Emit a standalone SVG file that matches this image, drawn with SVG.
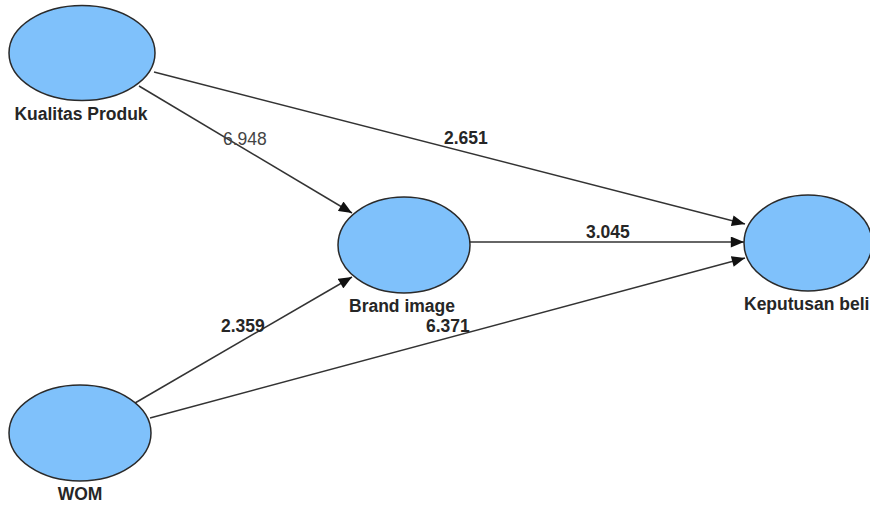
<svg xmlns="http://www.w3.org/2000/svg" width="870" height="506" viewBox="0 0 870 506">
  <style>
    .node { fill: #7fc1fb; stroke: #2a2a2a; stroke-width: 1.5; }
    .edge { stroke: #333; stroke-width: 1.5; fill: none; marker-end: url(#arrow); }
    .lbl { font-family: "Liberation Sans", Arial, sans-serif; font-size: 17.5px; font-weight: bold; fill: #262626; }
    .val { font-family: "Liberation Sans", Arial, sans-serif; font-size: 17.5px; font-weight: bold; fill: #262626; }
    .thin { font-weight: normal; fill: #444; }
  </style>
  <defs>
    <marker id="arrow" viewBox="0 0 12 10" refX="12" refY="5" markerWidth="14" markerHeight="11" markerUnits="userSpaceOnUse" orient="auto">
      <path d="M0,0 L12,5 L0,10 z" fill="#111"/>
    </marker>
    <clipPath id="cut-value">
      <rect x="200" y="120" width="68" height="40"/>
    </clipPath>
  </defs>
  <rect width="870" height="506" fill="#fff"/>

  <g id="connectors">
    <line class="edge" x1="139" y1="86" x2="352" y2="213"/>
    <line class="edge" x1="154" y1="72" x2="745" y2="224"/>
    <line class="edge" x1="470" y1="242" x2="744" y2="242"/>
    <line class="edge" x1="135" y1="403" x2="352" y2="277"/>
    <line class="edge" x1="150" y1="418" x2="745" y2="258"/>
    <text class="val thin" x="223" y="145" clip-path="url(#cut-value)">6.948</text>
    <text class="val" x="444" y="144">2.651</text>
    <text class="val" x="586" y="238">3.045</text>
    <text class="val" x="221" y="332">2.359</text>
    <text class="val" x="426" y="332">6.371</text>
  </g>

  <g id="kualitas-produk">
    <ellipse class="node" cx="82" cy="53" rx="73" ry="47.5"/>
    <text class="lbl" x="81" y="120" text-anchor="middle">Kualitas Produk</text>
  </g>

  <g id="brand-image">
    <ellipse class="node" cx="404" cy="245" rx="66" ry="48"/>
    <text class="lbl" x="402" y="312" text-anchor="middle">Brand image</text>
  </g>

  <g id="keputusan-beli">
    <ellipse class="node" cx="808" cy="243" rx="64" ry="48"/>
    <text class="lbl" x="744" y="310">Keputusan beli</text>
  </g>

  <g id="wom">
    <ellipse class="node" cx="80" cy="433" rx="71" ry="48"/>
    <text class="lbl" x="80" y="500" text-anchor="middle">WOM</text>
  </g>
</svg>
